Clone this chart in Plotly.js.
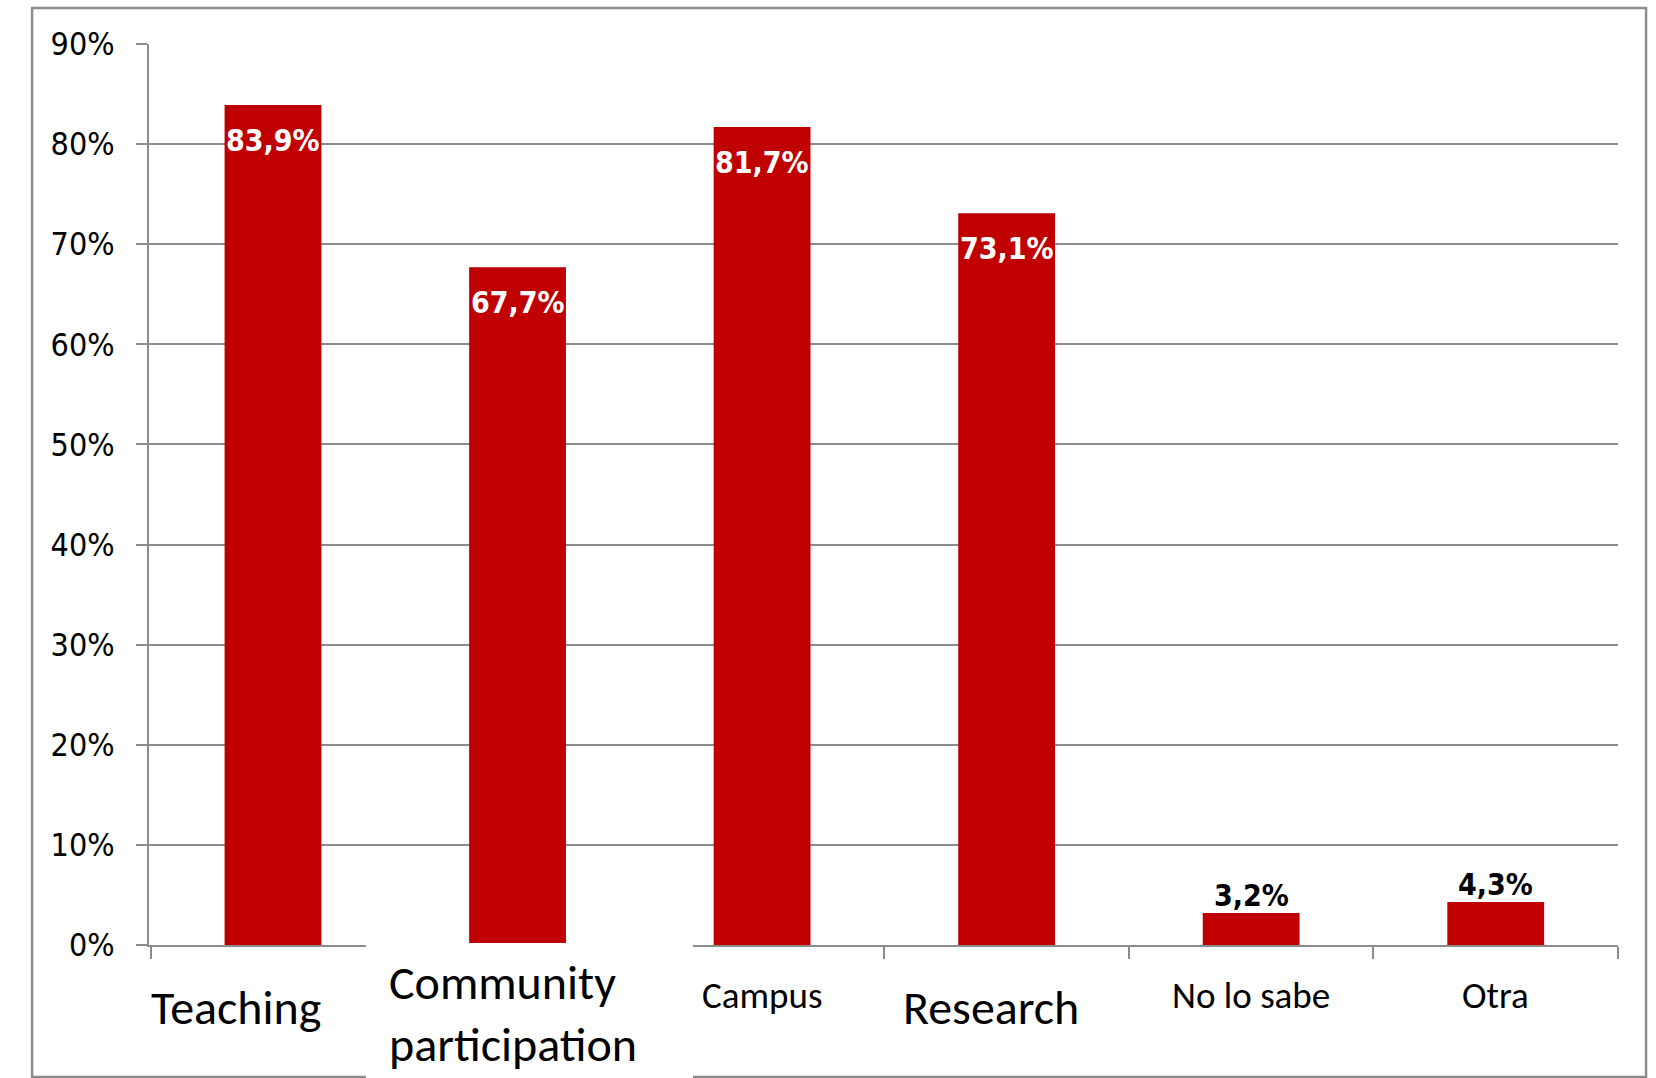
<!DOCTYPE html>
<html>
<head>
<meta charset="utf-8">
<script src="https://cdn.plot.ly/plotly-3.0.1.min.js"></script>
<style>
  html, body { margin: 0; padding: 0; background: #ffffff; }
  #chart { width: 1656px; height: 1078px; }
</style>
</head>
<body>
<div id="chart"></div>
<script>
// ---- data ----
const categories = ["Teaching", "Community participation", "Campus", "Research", "No lo sabe", "Otra"];
const categoryLabels = ["Teaching", "Community<br>participation", "Campus", "Research", "No lo sabe", "Otra"];
const values = [83.9, 67.7, 81.7, 73.1, 3.2, 4.3];
const yTickValues = [0, 10, 20, 30, 40, 50, 60, 70, 80, 90];
const yTickLabels = ["0%", "10%", "20%", "30%", "40%", "50%", "60%", "70%", "80%", "90%"];

// ---- styles ----
const barColor = "#C00000";
const gridColor = "#8c8c8c";
const labelFont = "Carlito, Calibri, Lato, sans-serif";
const numFont = "'DejaVu Sans Condensed', 'DejaVu Sans', sans-serif";

// label style per category (size, xshift, yshift, align)
const catStyle = [
  {size: 48, xshift: -37, yshift: -62, align: "center"},
  {size: 48, xshift: -5,  yshift: -68, align: "left"},
  {size: 37, xshift: 0,   yshift: -50, align: "center"},
  {size: 48, xshift: -16, yshift: -62, align: "center"},
  {size: 37, xshift: 0,   yshift: -50, align: "center"},
  {size: 37, xshift: 0,   yshift: -50, align: "center"}
];

const fmt = v => v.toFixed(1).replace(".", ",") + "%";

const annotations = [];
values.forEach((v, i) => {
  const inside = v > 10;
  annotations.push({
    x: categories[i], y: v, xref: "x", yref: "y",
    text: "<b>" + fmt(v) + "</b>",
    showarrow: false, xanchor: "center", yanchor: "middle",
    yshift: inside ? -35 : 17,
    font: {family: numFont, size: 30, color: inside ? "#ffffff" : "#000000"}
  });
});
categories.forEach((c, i) => {
  const s = catStyle[i];
  annotations.push({
    x: c, y: 0, xref: "x", yref: "paper",
    text: categoryLabels[i], showarrow: false,
    xanchor: "center", yanchor: "middle", align: s.align,
    xshift: s.xshift, yshift: s.yshift,
    font: {family: labelFont, size: s.size, color: "#000000"}
  });
});

const trace = {
  type: "bar",
  x: categories,
  y: values,
  marker: {color: barColor},
  hoverinfo: "none"
};

const layout = {
  width: 1656, height: 1078,
  margin: {l: 149, r: 38, t: 44, b: 133},
  paper_bgcolor: "#ffffff", plot_bgcolor: "#ffffff",
  showlegend: false,
  bargap: 0.604,
  xaxis: {
    type: "category",
    showticklabels: false,
    showgrid: false,
    showline: true, linecolor: gridColor, linewidth: 2,
    ticks: "outside", tickson: "boundaries", ticklen: 12, tickwidth: 2, tickcolor: gridColor,
    zeroline: false
  },
  yaxis: {
    range: [0, 90],
    tickmode: "array",
    tickvals: yTickValues,
    ticktext: yTickLabels,
    showgrid: true, gridcolor: gridColor, gridwidth: 2,
    showline: true, linecolor: gridColor, linewidth: 2,
    ticks: "outside", ticklen: 11, tickwidth: 2, tickcolor: gridColor,
    ticklabelstandoff: 15,
    zeroline: false,
    tickfont: {family: numFont, size: 32, color: "#000000"}
  },
  shapes: [
    // outer chart frame
    {type: "rect", xref: "paper", yref: "paper",
     x0: -0.0796, x1: 1.0191, y0: -0.1465, y1: 1.0400,
     line: {color: gridColor, width: 2.5}, fillcolor: "rgba(0,0,0,0)", layer: "below"},
    // white box behind the two-line label
    {type: "rect", xref: "paper", yref: "paper",
     x0: 0.1477, x1: 0.3703, y0: -0.16, y1: 0.0022,
     line: {width: 0}, fillcolor: "#ffffff", layer: "above"}
  ],
  annotations: annotations
};

Plotly.newPlot("chart", [trace], layout, {displayModeBar: false, staticPlot: true});
</script>
</body>
</html>
